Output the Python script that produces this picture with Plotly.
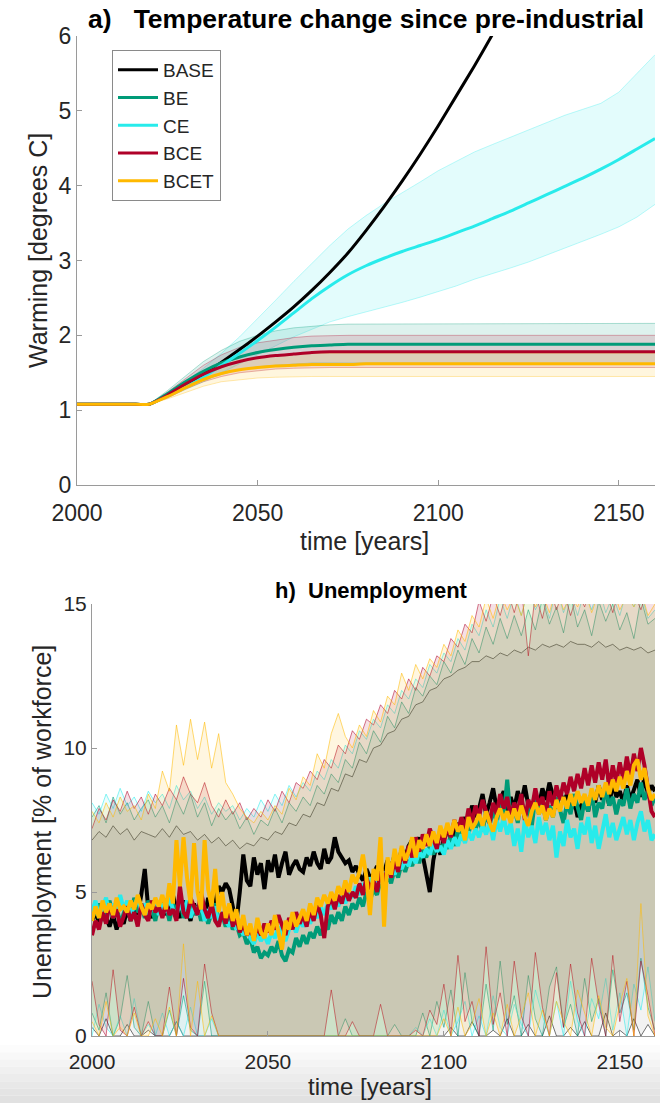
import plotly.graph_objects as go

W, H = 660, 1103
FONT = "Liberation Sans, Arial, Helvetica, sans-serif"

names = ["BASE", "BE", "CE", "BCE", "BCET"]
colors = {"BASE": (0, 0, 0), "BE": (0, 155, 120), "CE": (40, 235, 235),
          "BCE": (175, 0, 40), "BCET": (255, 185, 0)}

# ---------------- panel a: warming ----------------
years_t = list(range(2000, 2161, 5))
temp_BASE = [1.08, 1.08, 1.08, 1.08, 1.08, 1.2, 1.33, 1.48, 1.64, 1.81, 1.99, 2.18, 2.38, 2.6, 2.84,
             3.1, 3.4, 3.72, 4.06, 4.42, 4.8, 5.2, 5.6, 6.02, 6.45,
             None, None, None, None, None, None, None, None]
temp_BE = [1.08, 1.08, 1.08, 1.08, 1.08, 1.22, 1.38, 1.52, 1.63, 1.71, 1.77, 1.81, 1.84, 1.86, 1.87,
           1.88, 1.88, 1.88, 1.88, 1.88, 1.88, 1.88, 1.88, 1.88, 1.88, 1.88, 1.88, 1.88, 1.88, 1.88,
           1.88, 1.88, 1.88]
temp_BE_hi = [1.08, 1.08, 1.08, 1.08, 1.08, 1.26, 1.46, 1.65, 1.8, 1.92, 2.0, 2.06, 2.1, 2.12, 2.14,
              2.15, 2.15, 2.15, 2.15, 2.15, 2.15, 2.15, 2.16, 2.16, 2.16, 2.16, 2.16, 2.16, 2.16, 2.16,
              2.16, 2.16, 2.16]
temp_BE_lo = [1.08, 1.08, 1.08, 1.08, 1.08, 1.18, 1.3, 1.4, 1.48, 1.54, 1.58, 1.6, 1.62, 1.63, 1.63,
              1.63, 1.63, 1.63, 1.63, 1.63, 1.63, 1.63, 1.63, 1.63, 1.62, 1.62, 1.62, 1.62, 1.62, 1.62,
              1.62, 1.62, 1.62]
temp_CE = [1.08, 1.08, 1.08, 1.08, 1.08, 1.19, 1.31, 1.44, 1.6, 1.76, 1.93, 2.11, 2.3, 2.49, 2.66,
           2.81, 2.93, 3.03, 3.12, 3.2, 3.28, 3.37, 3.46, 3.56, 3.66, 3.77, 3.88, 3.99, 4.1, 4.22,
           4.35, 4.49, 4.63]
temp_CE_hi = [1.08, 1.08, 1.08, 1.08, 1.08, 1.22, 1.38, 1.56, 1.76, 1.98, 2.22, 2.47, 2.72, 2.96, 3.2,
              3.42, 3.6, 3.76, 3.9, 4.05, 4.2, 4.33, 4.45, 4.55, 4.65, 4.75, 4.85, 4.94, 5.02, 5.1,
              5.25, 5.5, 5.75]
temp_CE_lo = [1.08, 1.08, 1.08, 1.08, 1.08, 1.17, 1.27, 1.38, 1.5, 1.62, 1.75, 1.87, 1.98, 2.08, 2.18,
              2.25, 2.31, 2.37, 2.44, 2.51, 2.58, 2.66, 2.75, 2.82, 2.9, 2.98, 3.07, 3.16, 3.25, 3.35,
              3.45, 3.58, 3.75]
temp_BCE = [1.08, 1.08, 1.08, 1.08, 1.08, 1.2, 1.35, 1.48, 1.58, 1.65, 1.7, 1.73, 1.75, 1.77, 1.78,
            1.78, 1.78, 1.78, 1.78, 1.78, 1.78, 1.78, 1.78, 1.78, 1.78, 1.78, 1.78, 1.78, 1.78, 1.78,
            1.78, 1.78, 1.78]
temp_BCE_hi = [1.08, 1.08, 1.08, 1.08, 1.08, 1.24, 1.42, 1.6, 1.74, 1.84, 1.9, 1.94, 1.97, 1.99, 2.0,
               2.0, 2.0, 2.0, 2.0, 2.0, 2.0, 2.0, 2.0, 2.0, 2.0, 2.0, 2.0, 2.0, 2.0, 2.0,
               2.0, 2.0, 2.0]
temp_BCE_lo = [1.08, 1.08, 1.08, 1.08, 1.08, 1.16, 1.28, 1.38, 1.45, 1.5, 1.53, 1.55, 1.56, 1.57, 1.57,
               1.57, 1.57, 1.57, 1.57, 1.57, 1.57, 1.57, 1.57, 1.57, 1.57, 1.57, 1.57, 1.57, 1.57, 1.57,
               1.57, 1.57, 1.57]
temp_BCET = [1.08, 1.08, 1.08, 1.08, 1.08, 1.18, 1.3, 1.41, 1.49, 1.54, 1.57, 1.59, 1.6, 1.61, 1.61,
             1.61, 1.62, 1.62, 1.62, 1.62, 1.62, 1.62, 1.62, 1.62, 1.62, 1.62, 1.62, 1.62, 1.62, 1.62,
             1.62, 1.62, 1.62]
temp_BCET_hi = [1.08, 1.08, 1.08, 1.08, 1.08, 1.21, 1.36, 1.5, 1.6, 1.67, 1.71, 1.73, 1.75, 1.76, 1.76,
                1.76, 1.76, 1.76, 1.76, 1.76, 1.76, 1.76, 1.76, 1.76, 1.76, 1.76, 1.76, 1.76, 1.76, 1.76,
                1.76, 1.76, 1.76]
temp_BCET_lo = [1.08, 1.08, 1.08, 1.08, 1.08, 1.15, 1.24, 1.32, 1.38, 1.41, 1.43, 1.44, 1.45, 1.45, 1.45,
                1.45, 1.45, 1.45, 1.45, 1.45, 1.45, 1.45, 1.45, 1.45, 1.45, 1.45, 1.45, 1.45, 1.45, 1.45,
                1.45, 1.45, 1.45]

# ---------------- panel h: unemployment ----------------
years_u = list(range(2000, 2161))
unemp_BASE = [4.0, 4.3, 3.9, 4.4, 4.1, 3.8, 4.2, 3.7, 4.1, 3.9,
              4.4, 4.0, 4.6, 4.2, 4.9, 5.8, 4.4, 4.1, 4.6, 4.3,
              4.8, 4.2, 4.5, 4.9, 4.4, 4.1, 4.7, 4.3, 4.0, 4.6,
              4.2, 4.5, 4.1, 4.8, 4.4, 4.6, 5.2, 5.0, 5.3, 5.1,
              4.5, 3.9, 5.0, 6.3, 5.4, 5.2, 6.2, 5.6, 6.0, 5.1,
              6.1, 5.7, 6.3, 5.5, 6.0, 6.4, 5.6, 5.9, 6.1, 5.8,
              5.7, 6.2, 5.9, 6.4, 6.0, 5.8, 6.5, 6.0, 6.2, 6.9,
              6.4, 6.2, 6.0, 6.1, 5.7, 5.9, 5.6, 5.4, 5.8, 5.5,
              5.6, 5.9, 5.3, 5.7, 6.1, 5.8, 6.3, 5.9, 6.5, 6.2,
              6.6, 6.8, 6.4, 6.9, 6.2, 5.6, 5.0, 6.1, 6.7, 6.3,
              6.9, 7.2, 6.8, 7.0, 7.4, 6.9, 7.6, 7.3, 8.0, 7.6,
              7.9, 8.4, 7.7, 8.1, 8.6, 7.9, 8.2, 8.5, 7.8, 8.3,
              7.9, 8.5, 8.1, 8.7, 8.0, 7.7, 8.4, 8.0, 8.6, 8.2,
              8.8, 8.3, 7.9, 8.5, 8.1, 8.4, 7.8, 8.2, 7.6, 8.0,
              8.3, 7.8, 8.5, 8.1, 8.7, 8.2, 8.6, 8.0, 8.8, 8.3,
              8.5, 8.1, 8.7, 8.2, 8.6, 8.9, 8.3, 9.0, 8.4, 8.7, 8.5]
unemp_BE = [4.5, 4.2, 4.6, 4.0, 4.4, 4.7, 4.1, 4.5, 3.9, 4.3,
            4.6, 4.0, 4.8, 4.3, 4.5, 4.1, 4.7, 4.4, 4.0, 4.6,
            4.2, 4.5, 4.0, 4.6, 4.3, 4.8, 4.1, 4.4, 4.7, 4.2,
            4.5, 4.0, 4.4, 3.9, 4.3, 4.6, 4.0, 4.2, 3.8, 4.1,
            3.7, 3.9, 3.5, 3.6, 3.2, 3.4, 2.9, 3.1, 2.7, 2.9,
            2.8, 3.1, 2.9, 3.3, 2.8, 2.6, 3.0, 2.9, 3.4, 3.1,
            3.5, 3.2, 3.6, 3.4, 3.8, 3.5, 3.9, 3.7, 4.2, 3.9,
            4.3, 4.0, 4.5, 4.2, 4.6, 4.4, 4.8, 4.5, 5.0, 4.7,
            5.1, 4.9, 5.4, 5.0, 5.6, 5.3, 5.8, 5.5, 6.0, 5.7,
            6.1, 5.9, 6.4, 6.0, 6.5, 6.2, 6.6, 6.3, 6.8, 6.4,
            6.7, 6.5, 7.0, 6.6, 7.2, 6.8, 7.4, 7.0, 7.6, 7.2,
            7.5, 7.1, 7.8, 7.3, 7.9, 7.4, 8.1, 7.6, 8.9, 7.5,
            7.9, 7.4, 8.2, 7.6, 8.0, 7.3, 8.3, 7.7, 8.1, 7.5,
            8.0, 7.6, 8.3, 7.8, 7.4, 8.1, 7.7, 8.4, 7.9, 7.5,
            8.2, 7.8, 8.5, 7.6, 8.1, 7.9, 8.6, 8.0, 8.3, 7.7,
            8.2, 8.0, 8.6, 7.9, 8.4, 8.1, 8.8, 8.2, 8.5, 8.0, 8.3]
unemp_CE = [4.3, 4.7, 4.1, 4.5, 4.8, 4.2, 4.6, 4.3, 4.9, 4.4,
            4.7, 4.2, 4.5, 4.8, 4.3, 4.6, 4.1, 4.5, 4.7, 4.2,
            4.6, 4.3, 4.8, 4.4, 4.2, 4.6, 4.3, 4.7, 4.1, 4.5,
            4.2, 4.6, 4.0, 4.4, 4.1, 4.5, 3.9, 4.3, 4.0, 3.8,
            4.1, 3.7, 3.9, 3.5, 3.8, 3.4, 3.2, 3.6, 3.3, 3.5,
            3.2, 3.6, 3.4, 3.8, 3.5, 3.3, 3.7, 3.9, 3.6, 4.0,
            3.8, 4.2, 3.9, 4.3, 4.1, 4.5, 4.2, 4.6, 4.4, 4.8,
            4.5, 4.9, 4.6, 5.0, 4.8, 5.2, 4.9, 5.3, 5.1, 5.5,
            5.2, 5.6, 5.3, 5.7, 5.5, 5.9, 5.6, 6.0, 5.8, 6.1,
            5.9, 6.3, 6.0, 6.4, 6.2, 6.5, 6.3, 6.7, 6.4, 6.6,
            6.3, 6.8, 6.5, 6.9, 6.6, 7.0, 6.7, 7.1, 6.8, 7.2,
            6.9, 7.3, 7.0, 7.4, 6.8, 7.5, 7.1, 7.6, 7.0, 7.4,
            6.6, 7.2, 6.4, 7.5, 6.9, 7.3, 6.7, 7.6, 7.0, 7.4,
            6.8, 7.3, 6.2, 7.1, 6.6, 7.5, 6.9, 7.2, 6.5, 7.4,
            7.0, 7.6, 6.7, 7.3, 6.5, 7.1, 7.7, 6.9, 7.4, 6.8,
            7.2, 7.6, 7.0, 7.5, 6.8, 7.4, 7.8, 7.1, 7.5, 6.8, 7.0]
unemp_BCE = [3.5, 4.0, 3.7, 4.3, 3.9, 4.6, 4.1, 4.4, 3.8, 4.2,
             4.5, 4.0, 4.3, 3.8, 4.6, 4.2, 4.0, 4.7, 4.3, 4.5,
             4.1, 4.6, 4.2, 4.4, 4.0, 5.2, 4.3, 4.1, 4.8, 4.5,
             4.2, 5.0, 4.4, 4.1, 4.6, 4.0, 3.8, 4.3, 3.9, 4.5,
             3.8, 4.1, 3.6, 3.9, 3.5, 3.7, 3.4, 3.8, 3.5, 3.9,
             3.6, 4.0, 3.7, 4.2, 3.8, 3.5, 4.1, 3.7, 4.3, 3.9,
             4.2, 3.8, 4.4, 4.0, 4.6, 4.2, 3.4, 4.5, 4.8, 4.4,
             4.9, 4.6, 5.1, 4.7, 5.0, 4.8, 5.3, 4.9, 5.5, 5.1,
             5.4, 5.0, 5.7, 5.3, 5.9, 5.5, 6.1, 5.7, 6.4, 6.0,
             6.6, 6.2, 6.9, 6.4, 7.0, 6.6, 7.2, 6.8, 6.5, 7.1,
             6.7, 7.3, 6.9, 7.5, 7.1, 7.6, 7.2, 7.9, 7.4, 8.0,
             7.6, 8.2, 7.8, 7.4, 8.1, 7.7, 8.4, 7.9, 8.3, 7.6,
             8.1, 7.8, 8.4, 7.5, 8.2, 7.9, 8.6, 8.0, 8.3, 7.7,
             8.5, 8.0, 8.7, 8.2, 8.8, 8.4, 9.0, 8.5, 9.1, 8.6,
             9.3, 8.7, 9.4, 8.8, 9.5, 8.9, 9.6, 8.6, 9.4, 8.8,
             9.5, 8.9, 9.7, 9.0, 9.8, 9.2, 10.0, 9.4, 8.6, 7.8, 7.6]
unemp_BCET = [4.0, 4.5, 4.1, 4.7, 4.3, 4.6, 4.2, 4.8, 4.4, 4.5,
              4.3, 4.7, 4.4, 4.9, 4.5, 4.2, 4.6, 4.4, 4.8, 4.5,
              4.9, 4.4, 5.3, 4.6, 6.8, 5.2, 6.9, 5.5, 4.6, 6.7,
              5.0, 4.4, 6.8, 5.1, 4.5, 5.8, 4.3, 5.0, 4.1, 4.6,
              4.0, 4.4, 3.7, 4.2, 3.5, 3.9, 3.3, 4.1, 3.6, 3.4,
              3.9, 3.5, 4.2, 3.6, 3.0, 4.0, 3.7, 4.3, 3.8, 4.1,
              4.4, 4.0, 4.6, 4.2, 4.8, 4.5, 4.9, 4.6, 5.0, 4.7,
              5.2, 4.9, 5.4, 5.0, 5.6, 5.3, 5.7, 6.3, 5.5, 4.2,
              5.8, 5.4, 6.9, 3.8, 6.2, 5.6, 6.5, 5.9, 6.6, 6.1,
              6.4, 6.9, 6.2, 6.8, 6.5, 7.0, 6.6, 7.1, 6.7, 7.3,
              6.9, 7.4, 7.0, 7.5, 7.1, 7.3, 6.8, 7.6, 7.2, 7.4,
              7.7, 7.3, 7.8, 7.4, 7.1, 7.6, 7.9, 7.5, 7.8, 7.4,
              7.9, 7.5, 8.0, 7.6, 7.3, 7.8, 8.1, 7.7, 8.0, 7.5,
              7.9, 7.6, 8.2, 7.8, 8.3, 7.9, 8.4, 8.0, 8.5, 8.1,
              8.4, 8.0, 8.6, 8.2, 8.7, 8.3, 8.8, 8.4, 8.9, 8.5,
              9.0, 8.6, 9.2, 8.7, 9.4, 9.6, 8.9, 9.3, 8.6, 8.2, 8.4]

# uncertainty bands, every second year
years_b = list(range(2000, 2161, 2))
band_BASE_hi = [6.8, 7.1, 6.9, 7.3, 7.0, 7.2, 6.8, 7.1, 7.0, 6.9,
                7.2, 6.9, 7.3, 7.0, 7.1, 6.8, 7.0, 6.7, 6.9, 6.6,
                6.8, 6.5, 6.7, 6.6, 6.9, 6.8, 7.1, 7.0, 7.4, 7.3,
                7.7, 7.6, 8.1, 8.0, 8.6, 8.5, 9.1, 9.0, 9.6, 9.5,
                10.0, 10.1, 10.5, 10.6, 11.0, 11.1, 11.5, 11.6, 12.0, 12.1,
                12.4, 12.5, 12.7, 12.8, 13.0, 13.0, 13.2, 13.1, 13.3, 13.2,
                13.4, 13.3, 13.5, 13.4, 13.6, 13.5, 13.6, 13.5, 13.7, 13.6,
                13.6, 13.5, 13.7, 13.5, 13.6, 13.4, 13.5, 13.4, 13.5, 13.3, 13.4]
band_BASE_lo = [0.3, 0.0, 0.6, 0.0, 0.0, 0.4, 0.0, 0.0, 0.2, 0.0,
                0.0, 0.0, 0.5, 0.0, 0.0, 0.0, 0.0, 0.0, 0.0, 0.0,
                0.0, 0.0, 0.0, 0.0, 0.0, 0.0, 0.0, 0.0, 0.0, 0.0,
                0.0, 0.0, 0.0, 0.0, 0.0, 0.0, 0.0, 0.0, 0.0, 0.0,
                0.0, 0.0, 0.0, 0.0, 0.0, 0.0, 0.0, 0.0, 0.0, 0.0,
                0.0, 0.3, 0.0, 0.0, 0.5, 0.0, 0.0, 0.2, 0.0, 0.6,
                0.0, 0.0, 0.4, 0.0, 0.0, 0.7, 0.0, 0.0, 0.3, 0.0,
                0.5, 0.0, 0.0, 0.8, 0.0, 0.2, 0.0, 0.6, 0.0, 0.4, 0.0]
band_BE_hi = [7.6, 8.0, 7.4, 8.3, 7.7, 8.1, 7.5, 7.9, 8.2, 7.6,
              8.0, 7.4, 8.2, 7.7, 8.4, 7.6, 8.1, 7.3, 7.9, 7.5,
              7.8, 7.2, 7.6, 7.0, 7.5, 7.3, 7.9, 7.4, 8.1, 7.8,
              8.3, 8.0, 8.7, 8.4, 9.1, 8.8, 9.6, 9.3, 10.2, 9.8,
              10.6, 10.2, 11.1, 10.7, 11.6, 11.2, 12.1, 11.8, 12.5, 12.2,
              13.0, 12.6, 13.4, 12.9, 13.8, 13.3, 14.2, 13.6, 14.5, 13.8,
              14.6, 13.9, 14.8, 14.1, 15.2, 14.3, 14.9, 14.0, 15.3, 14.2,
              14.8, 13.9, 15.1, 14.4, 15.0, 14.1, 14.7, 13.8, 15.2, 14.3, 14.5]
band_BE_lo = [0.8, 0.2, 1.5, 0.0, 0.6, 2.1, 0.3, 0.0, 1.2, 0.0,
              0.0, 0.9, 0.0, 1.4, 0.2, 0.0, 1.9, 0.0, 0.0, 0.0,
              0.0, 0.0, 0.0, 0.0, 0.0, 0.0, 0.0, 0.0, 0.0, 0.0,
              0.0, 0.0, 0.0, 0.0, 0.0, 0.0, 0.6, 0.0, 0.0, 0.0,
              0.0, 0.0, 0.0, 0.4, 0.0, 0.0, 0.0, 0.8, 0.0, 1.2,
              0.3, 1.6, 0.0, 2.2, 0.5, 0.0, 1.8, 0.2, 2.6, 0.4,
              1.4, 0.0, 2.1, 0.6, 0.0, 1.7, 2.4, 0.3, 1.1, 0.0,
              2.0, 0.5, 1.3, 0.0, 2.3, 0.8, 1.5, 0.2, 2.7, 1.0, 0.2]
band_CE_hi = [8.1, 7.7, 8.4, 7.9, 8.6, 8.0, 8.3, 7.8, 8.5, 8.1,
              8.4, 7.9, 8.7, 8.2, 8.5, 7.9, 8.3, 7.7, 8.1, 7.8,
              8.0, 7.5, 7.9, 7.6, 8.2, 7.8, 8.4, 8.0, 8.7, 8.3,
              8.8, 8.5, 9.2, 8.9, 9.6, 9.3, 10.1, 9.8, 10.6, 10.3,
              11.0, 10.7, 11.5, 11.2, 12.0, 11.7, 12.4, 12.1, 12.9, 12.6,
              13.3, 13.0, 13.8, 13.4, 14.3, 13.9, 14.8, 14.2, 15.2, 14.5,
              15.4, 14.6, 15.5, 14.8, 15.3, 14.5, 15.6, 14.7, 15.4, 14.6,
              15.5, 14.8, 15.6, 14.7, 15.3, 14.6, 15.5, 14.9, 15.4, 14.5, 14.8]
band_CE_lo = [0.0, 1.1, 0.3, 0.0, 0.7, 0.0, 1.3, 0.0, 0.4, 0.0,
              0.8, 0.0, 0.5, 0.0, 1.0, 0.0, 0.0, 0.6, 0.0, 0.0,
              0.0, 0.0, 0.0, 0.0, 0.0, 0.0, 0.0, 0.0, 0.0, 0.0,
              0.0, 0.0, 0.0, 0.0, 0.0, 0.0, 0.0, 0.0, 0.0, 0.0,
              0.0, 0.0, 0.0, 0.0, 0.0, 0.0, 0.3, 0.0, 0.6, 0.0,
              0.9, 0.0, 0.5, 1.2, 0.0, 0.7, 0.0, 1.4, 0.3, 0.0,
              1.1, 0.4, 0.0, 1.6, 0.7, 0.0, 1.2, 0.0, 1.9, 0.5,
              0.0, 1.3, 0.6, 2.0, 0.2, 1.5, 0.0, 1.8, 0.9, 2.4, 0.5]
band_BCE_hi = [7.2, 7.9, 7.5, 8.2, 7.8, 8.5, 7.9, 8.3, 7.7, 8.4,
               8.0, 8.6, 8.2, 9.0, 8.4, 8.1, 8.8, 8.0, 7.6, 8.2,
               7.7, 8.1, 7.5, 7.9, 7.6, 8.2, 7.8, 8.5, 8.1, 8.8,
               8.6, 9.2, 8.9, 9.6, 9.3, 10.1, 9.8, 10.6, 10.3, 11.0,
               10.8, 11.5, 11.2, 12.0, 11.7, 12.4, 12.0, 12.8, 12.5, 13.2,
               13.0, 13.8, 13.5, 14.3, 14.0, 15.1, 14.4, 15.3, 14.6, 15.5,
               14.7, 15.6, 13.2, 15.4, 14.5, 15.6, 14.8, 15.5, 14.6, 15.4,
               14.9, 15.7, 15.0, 15.5, 14.7, 15.6, 15.1, 15.4, 14.8, 15.6, 15.2]
band_BCE_lo = [1.9, 0.4, 0.0, 2.3, 0.2, 0.0, 1.0, 0.0, 0.5, 0.0,
               0.0, 1.7, 0.0, 2.0, 0.3, 0.0, 2.5, 0.8, 0.0, 0.0,
               0.0, 0.0, 0.0, 0.0, 0.0, 0.0, 0.0, 0.0, 0.0, 0.0,
               0.0, 0.0, 0.0, 0.0, 1.6, 0.0, 0.0, 0.5, 0.0, 0.0,
               0.0, 1.1, 0.0, 0.0, 0.0, 0.0, 0.2, 0.0, 0.9, 0.4,
               1.8, 0.0, 2.8, 0.5, 1.2, 0.0, 3.1, 0.4, 1.5, 0.0,
               2.6, 0.7, 0.0, 2.9, 1.0, 0.0, 2.2, 0.3, 2.5, 0.8,
               0.0, 2.7, 1.1, 0.0, 2.8, 0.5, 1.9, 0.0, 2.6, 1.4, 0.0]
band_BCET_hi = [7.8, 7.4, 8.1, 7.6, 8.3, 7.8, 8.0, 7.5, 8.4, 7.9,
                9.2, 8.5, 10.8, 9.4, 11.0, 9.6, 10.9, 9.3, 10.5, 8.8,
                8.4, 7.9, 7.6, 7.4, 7.8, 7.5, 8.0, 7.7, 8.6, 8.2,
                9.0, 8.7, 9.8, 9.3, 10.5, 11.2, 10.4, 10.0, 10.8, 10.4,
                11.3, 10.9, 11.8, 11.5, 12.6, 12.0, 12.9, 12.4, 13.1, 12.8,
                13.6, 13.2, 14.1, 13.7, 14.6, 14.2, 15.2, 14.5, 15.4, 14.8,
                15.3, 14.6, 15.5, 14.9, 15.4, 14.7, 15.6, 14.8, 15.3, 14.9,
                15.5, 14.7, 15.4, 15.0, 15.6, 14.8, 15.3, 14.9, 15.5, 14.6, 15.0]
band_BCET_lo = [0.5, 0.0, 1.2, 0.0, 0.3, 0.0, 0.8, 0.0, 0.0, 0.6,
                0.0, 1.0, 0.0, 3.2, 0.0, 1.9, 0.0, 0.7, 0.0, 0.0,
                0.0, 0.0, 0.0, 0.0, 0.0, 0.0, 0.0, 0.0, 0.0, 0.0,
                0.0, 0.0, 0.0, 0.0, 0.0, 0.0, 0.0, 0.0, 0.0, 0.0,
                0.0, 0.0, 0.0, 0.0, 0.0, 0.0, 0.0, 0.0, 0.0, 0.0,
                0.6, 0.0, 1.0, 0.0, 0.4, 1.3, 0.0, 0.8, 0.0, 1.1,
                0.0, 0.7, 1.5, 0.0, 0.9, 0.0, 1.2, 0.5, 0.0, 1.6,
                0.8, 0.0, 1.4, 0.3, 0.0, 1.1, 2.0, 0.0, 4.6, 0.7, 0.0]

temp = {"BASE": temp_BASE, "BE": temp_BE, "CE": temp_CE, "BCE": temp_BCE, "BCET": temp_BCET}
temp_bands = {"BE": (temp_BE_lo, temp_BE_hi), "CE": (temp_CE_lo, temp_CE_hi),
              "BCE": (temp_BCE_lo, temp_BCE_hi), "BCET": (temp_BCET_lo, temp_BCET_hi)}
unemp = {"BASE": unemp_BASE, "BE": unemp_BE, "CE": unemp_CE, "BCE": unemp_BCE, "BCET": unemp_BCET}
unemp_bands = {"BASE": (band_BASE_lo, band_BASE_hi), "BE": (band_BE_lo, band_BE_hi),
               "CE": (band_CE_lo, band_CE_hi), "BCE": (band_BCE_lo, band_BCE_hi),
               "BCET": (band_BCET_lo, band_BCET_hi)}


def rgba(name, a):
    r, g, b = colors[name]
    return f"rgba({r},{g},{b},{a})"


fig = go.Figure()

# panel a bands
for n in ["CE", "BE", "BCE", "BCET"]:
    lo, hi = temp_bands[n]
    fig.add_trace(go.Scatter(x=years_t, y=lo, mode="lines", line=dict(color=rgba(n, 0.3), width=1),
                             showlegend=False, hoverinfo="skip", xaxis="x", yaxis="y"))
    fig.add_trace(go.Scatter(x=years_t, y=hi, mode="lines", line=dict(color=rgba(n, 0.3), width=1),
                             fill="tonexty", fillcolor=rgba(n, 0.13),
                             showlegend=False, hoverinfo="skip", xaxis="x", yaxis="y"))
# panel a means
for n in names:
    fig.add_trace(go.Scatter(x=years_t, y=temp[n], mode="lines", name=n,
                             line=dict(color=rgba(n, 1), width=3, shape="spline", smoothing=0.6),
                             xaxis="x", yaxis="y"))

# panel h bands
band_alpha = {"BASE": 0.05, "BE": 0.11, "CE": 0.09, "BCE": 0.12, "BCET": 0.12}
for n in names:
    lo, hi = unemp_bands[n]
    fig.add_trace(go.Scatter(x=years_b, y=lo, mode="lines", line=dict(color=rgba(n, 0.55), width=1),
                             showlegend=False, hoverinfo="skip", xaxis="x2", yaxis="y2"))
    fig.add_trace(go.Scatter(x=years_b, y=hi, mode="lines", line=dict(color=rgba(n, 0.55), width=1),
                             fill="tonexty", fillcolor=rgba(n, band_alpha[n]),
                             showlegend=False, hoverinfo="skip", xaxis="x2", yaxis="y2"))
# panel h means
for n in names:
    fig.add_trace(go.Scatter(x=years_u, y=unemp[n], mode="lines", name=n, showlegend=False,
                             line=dict(color=rgba(n, 1), width=4),
                             xaxis="x2", yaxis="y2"))


def py(px):
    return 1 - px / H


def axis(size, **kw):
    d = dict(showgrid=False, zeroline=False, showline=True, linecolor="#9a9a9a", linewidth=1,
             ticks="inside", ticklen=5, tickcolor="#9a9a9a", mirror=False, automargin=False,
             tickfont=dict(family=FONT, color="#262626", size=size))
    d.update(kw)
    return d


fig.update_layout(
    template="none",
    width=W, height=H, autosize=False,
    margin=dict(l=0, r=0, t=0, b=0, pad=0, autoexpand=False),
    paper_bgcolor="white", plot_bgcolor="white",
    font=dict(family=FONT, color="#262626"),
    xaxis=axis(23, domain=[77 / W, 655 / W], range=[2000, 2160], tickvals=[2000, 2050, 2100, 2150],
               anchor="y", ticklabelstandoff=7),
    yaxis=axis(23, domain=[py(485), py(36)], range=[0, 6], tickvals=[0, 1, 2, 3, 4, 5, 6],
               anchor="x"),
    xaxis2=axis(21, domain=[92 / W, 655 / W], range=[2000, 2160], tickvals=[2000, 2050, 2100, 2150],
                anchor="y2", ticklabelstandoff=7),
    yaxis2=axis(21, domain=[py(1036), py(604)], range=[0, 15], tickvals=[0, 5, 10, 15],
                anchor="x2"),
    legend=dict(x=112 / W, y=py(50), xanchor="left", yanchor="top", traceorder="normal",
                bgcolor="white", bordercolor="#8a8a8a", borderwidth=1, itemwidth=40,
                font=dict(family=FONT, size=19, color="#262626"), tracegroupgap=0),
    showlegend=True,
    hovermode=False,
)

annotations = [
    dict(text="<b>a)\u00a0\u00a0\u00a0Temperature change since pre-industrial</b>", x=366 / W, y=py(19),
         font=dict(size=26.5, color="black", family=FONT)),
    dict(text="time [years]", x=365 / W, y=py(541), font=dict(size=25, color="#262626", family=FONT)),
    dict(text="Warming [degrees C]", x=38 / W, y=py(251), textangle=-90,
         font=dict(size=25, color="#262626", family=FONT)),
    dict(text="<b>h)\u00a0\u00a0Unemployment</b>", x=371 / W, y=py(590),
         font=dict(size=22, color="black", family=FONT)),
    dict(text="time [years]", x=370 / W, y=py(1086), font=dict(size=24, color="#262626", family=FONT)),
    dict(text="Unemployment [% of workforce]", x=42 / W, y=py(822), textangle=-90,
         font=dict(size=25, color="#262626", family=FONT)),
]
for a in annotations:
    a.update(xref="paper", yref="paper", showarrow=False, xanchor="center", yanchor="middle")
fig.update_layout(annotations=annotations)

# screenshot-like grey gradient at the very bottom
grey_steps = [252, 248, 244, 240, 236, 232, 228, 225]
shapes = []
top = 1045
step = (H - top) / len(grey_steps)
for i, g in enumerate(grey_steps):
    shapes.append(dict(type="rect", xref="paper", yref="paper", x0=0, x1=1,
                       y0=py(top + (i + 1) * step), y1=py(top + i * step),
                       fillcolor=f"rgb({g},{g},{g})", line=dict(width=0), layer="below"))
fig.update_layout(shapes=shapes)

fig.write_html("out.html", config={"displayModeBar": False},
               post_script="document.body.style.margin='0';")
